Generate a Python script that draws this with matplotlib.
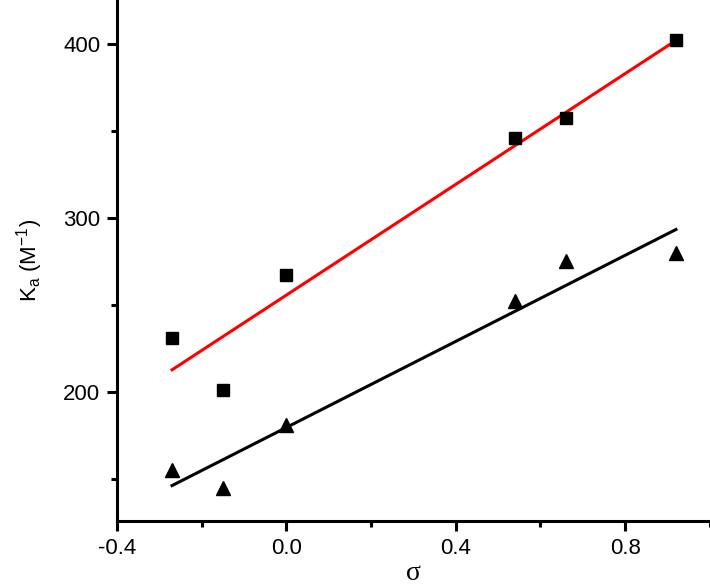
import numpy as np
import matplotlib.pyplot as plt
from matplotlib.ticker import MultipleLocator

plt.rcParams['font.family'] = ['Liberation Sans', 'DejaVu Sans']

sigma = [-0.27, -0.15, 0.0, 0.54, 0.66, 0.92]
ka_squares = [231, 201, 267, 346, 357, 402]
ka_triangles = [155, 145, 181, 252, 275, 280]

fig = plt.figure(figsize=(7.1, 5.85), dpi=100)
ax = fig.add_axes([0.1648, 0.1094, 0.835, 0.8906])

# linear fits
xs = np.array([sigma[0], sigma[-1]])
p_sq = np.polyfit(sigma, ka_squares, 1)
p_tr = np.polyfit(sigma, ka_triangles, 1)
ax.plot(xs, np.polyval(p_sq, xs), color='#ff0000', lw=2.2, zorder=2)
ax.plot(xs, np.polyval(p_tr, xs), color='black', lw=2.2, zorder=2)

ax.plot(sigma, ka_squares, 's', color='black', ms=8, zorder=3)
ax.plot(sigma, ka_triangles, '^', color='black', ms=10.5, zorder=3)

ax.set_xlim(-0.4, 1.0)
ax.set_ylim(126, 425)
ax.xaxis.set_major_locator(MultipleLocator(0.4))
ax.xaxis.set_minor_locator(MultipleLocator(0.2))
ax.yaxis.set_major_locator(MultipleLocator(100))
ax.yaxis.set_minor_locator(MultipleLocator(50))
ax.xaxis.set_major_formatter(plt.FuncFormatter(lambda v, p: f"{v:.1f}"))

for s in ['top', 'right']:
    ax.spines[s].set_visible(False)
for s in ['left', 'bottom']:
    ax.spines[s].set_linewidth(2.2)

ax.tick_params(which='major', length=7, width=2.2, labelsize=16, pad=5)
ax.tick_params(which='minor', length=4, width=2.2)

ax.set_ylabel('K$_\\mathregular{a}$ (M$^\\mathregular{-1}$)', fontsize=16, labelpad=13)
ax.set_xlabel('σ', fontsize=20, family=['Liberation Serif', 'DejaVu Serif'], labelpad=2)

fig.savefig('out.png', dpi=100)
